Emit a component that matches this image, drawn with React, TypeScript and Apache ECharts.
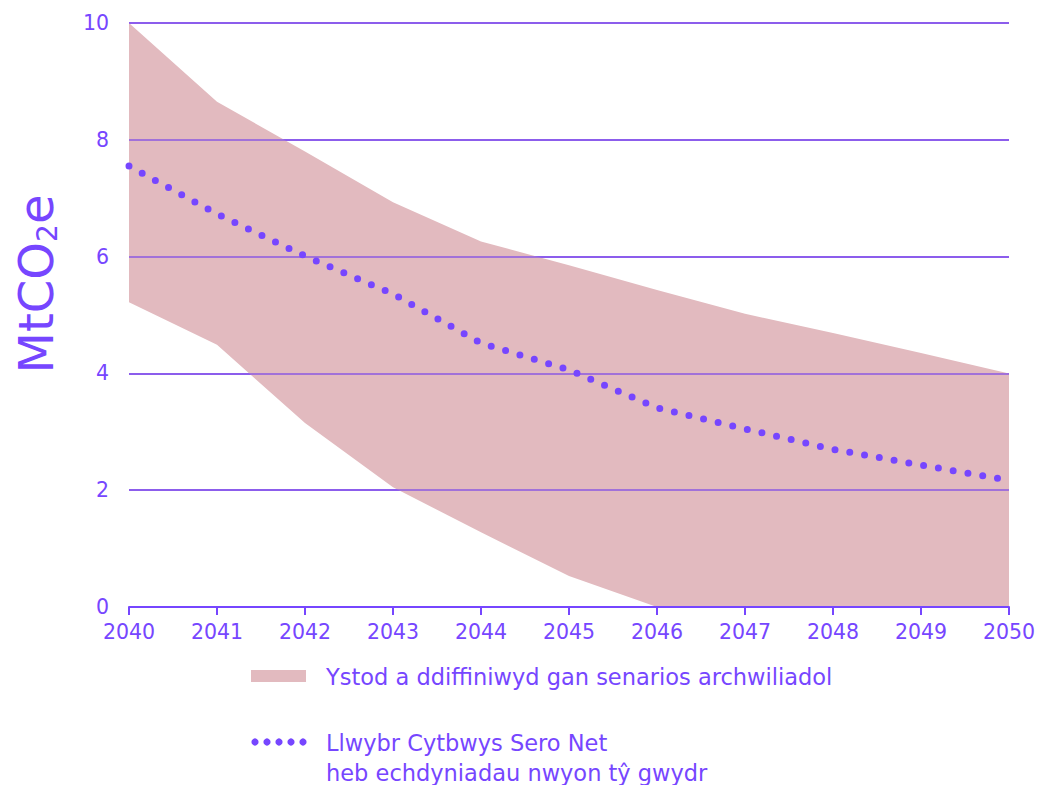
import React, { useEffect, useRef } from "react";
import * as echarts from "echarts";

const years = ["2040", "2041", "2042", "2043", "2044", "2045", "2046", "2047", "2048", "2049", "2050"];
const rangeLow = [5.22, 4.49, 3.15, 2.05, 1.28, 0.53, 0, 0, 0, 0, 0];
const rangeHigh = [10, 8.65, 7.8, 6.93, 6.26, 5.85, 5.43, 5.02, 4.69, 4.35, 4.0];
const pathway = [7.55, 6.73, 6.01, 5.36, 4.52, 4.06, 3.41, 3.05, 2.7, 2.43, 2.17];
const yTicks = [0, 2, 4, 6, 8, 10];

const bandName = "Ystod a ddiffiniwyd gan senarios archwiliadol";
const lineName = "Llwybr Cytbwys Sero Net";
const lineName2 = "heb echdyniadau nwyon tŷ gwydr";

const PURPLE = "#7646ff";
const GRID = "#8a5cf0";
const GRID_IN = "rgba(124,72,230,0.85)";
const BAND = "#e2babf";
const FONT = "'DejaVu Sans', sans-serif";

export default function App() {
  const ref = useRef<HTMLDivElement>(null);
  useEffect(() => {
    if (!ref.current) return;
    const chart = echarts.init(ref.current, undefined, { renderer: "svg" });
    const diffData = rangeHigh.map((h, i) => +(h - rangeLow[i]).toFixed(3));
    chart.setOption({
      animation: false,
      textStyle: { fontFamily: FONT },
      grid: { left: 129, right: 31, top: 23, bottom: 178 },
      xAxis: {
        type: "category",
        data: years,
        boundaryGap: false,
        axisLine: { show: true, lineStyle: { color: PURPLE, width: 2 } },
        axisTick: { show: true, length: 8, alignWithLabel: true, lineStyle: { color: PURPLE, width: 2 } },
        axisLabel: { color: PURPLE, fontSize: 20.5, margin: 14, fontFamily: FONT, interval: 0 },
        splitLine: { show: false },
        z: 10,
      },
      yAxis: {
        type: "value",
        min: yTicks[0],
        max: yTicks[yTicks.length - 1],
        interval: 2,
        axisLine: { show: false },
        axisTick: { show: false },
        axisLabel: { color: PURPLE, fontSize: 20.5, margin: 20, fontFamily: FONT },
        splitLine: { show: true, lineStyle: { color: GRID, width: 1.5 } },
      },
      series: [
        {
          name: "low",
          type: "line",
          stack: "band",
          data: rangeLow,
          symbol: "none",
          lineStyle: { width: 0, opacity: 0 },
          silent: true,
          z: 1,
        },
        {
          name: bandName,
          type: "line",
          stack: "band",
          data: diffData,
          symbol: "none",
          lineStyle: { width: 0, opacity: 0 },
          areaStyle: { color: BAND, opacity: 1 },
          z: 1,
        },
        {
          name: lineName,
          type: "line",
          data: pathway,
          symbol: "none",
          smooth: false,
          lineStyle: { color: PURPLE, width: 7, type: [0, 15], cap: "round" },
          z: 5,
          markLine: {
            silent: true,
            symbol: "none",
            label: { show: false },
            lineStyle: { color: GRID_IN, width: 1.5, type: "solid" },
            data: yTicks.slice(1).map((v) => ({ yAxis: v })),
          },
        },
      ],
      graphic: [
        {
          type: "text",
          x: 36,
          y: 284,
          rotation: Math.PI / 2,
          style: {
            text: "MtCO{sub|2}e",
            fill: PURPLE,
            fontSize: 48,
            fontFamily: FONT,
            align: "center",
            verticalAlign: "middle",
            rich: {
              sub: { fontSize: 28, fill: PURPLE, fontFamily: FONT, padding: [22, 0, 0, 0] },
            },
          },
        },
        { type: "rect", shape: { x: 251, y: 670, width: 55, height: 12 }, style: { fill: BAND } },
        {
          type: "text",
          x: 326,
          y: 677,
          style: { text: bandName, fill: PURPLE, fontSize: 22.5, fontFamily: FONT, verticalAlign: "middle" },
        },
        ...[0, 1, 2, 3, 4].map((k) => ({
          type: "circle",
          shape: { cx: 255 + k * 12, cy: 742, r: 3.6 },
          style: { fill: PURPLE },
        })),
        {
          type: "text",
          x: 326,
          y: 743,
          style: { text: lineName, fill: PURPLE, fontSize: 22.5, fontFamily: FONT, verticalAlign: "middle" },
        },
        {
          type: "text",
          x: 326,
          y: 773,
          style: { text: lineName2, fill: PURPLE, fontSize: 22.5, fontFamily: FONT, verticalAlign: "middle" },
        },
      ],
    });
    return () => chart.dispose();
  }, []);
  return <div ref={ref} style={{ width: 1040, height: 785, position: "absolute", left: 0, top: 0 }} />;
}
